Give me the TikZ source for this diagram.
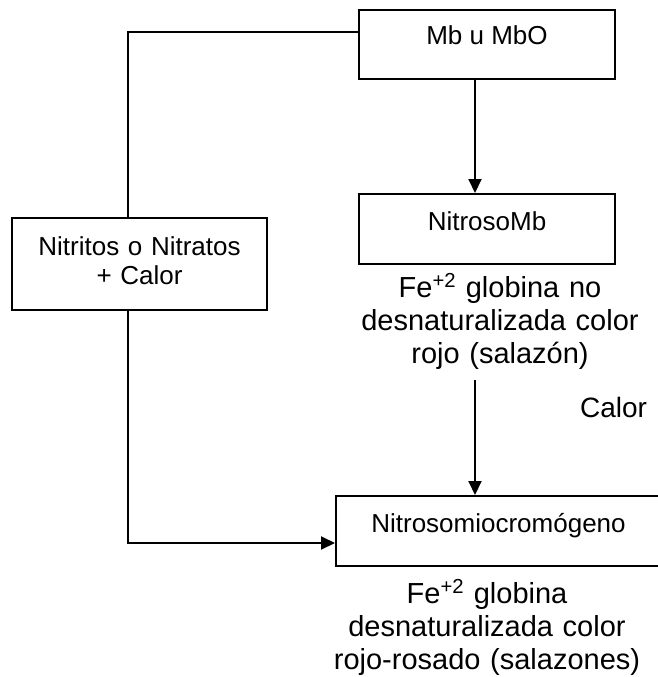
\documentclass[tikz,border=0pt]{standalone}
\usepackage{fontspec}
\setmainfont{Liberation Sans}
\usetikzlibrary{arrows.meta}
\begin{document}
\begin{tikzpicture}[x=1pt,y=-1pt,
  box/.style={draw, line width=2pt, inner sep=0pt, rectangle},
  boxtext/.style={inner sep=0pt, anchor=base, font=\fontsize{26}{29}\selectfont},
  note/.style={inner sep=0pt, anchor=base, text width=340pt, align=center,
               font=\fontsize{29}{33}\selectfont},
  link/.style={line width=2pt},
  arr/.style={line width=2pt, -{Triangle[length=14pt,width=13pt]}}]

% page area
\fill[white] (0,0) rectangle (657,677);
\useasboundingbox (0,0) rectangle (657,677);

% boxes
\node[box, minimum width=256pt, minimum height=69pt] (mb) at (487,44.5) {};
\node[box, minimum width=256pt, minimum height=70pt] (ns) at (487,229) {};
\node[box, minimum width=255pt, minimum height=92pt] (nit) at (139.5,264) {};
\node[box, minimum width=325pt, minimum height=70pt] (nm) at (498.5,531) {};

% box texts
\node[boxtext] (mbt) at (487,45) {Mb u MbO};
\node[boxtext] (nst) at (487,230) {NitrosoMb};
\node[boxtext, text width=250pt, align=center] (nitt) at (139.5,255) {Nitritos o Nitratos\\+ Calor};
\node[boxtext] (nmt) at (498.5,532) {Nitrosomiocromógeno};

% notes
\node[note] (n1) at (500,297) {Fe\textsuperscript{+2} globina no\\desnaturalizada color\\rojo (salazón)};
\node[note] (n2) at (487,603) {Fe\textsuperscript{+2} globina\\desnaturalizada color\\rojo-rosado (salazones)};
\node[inner sep=0pt, anchor=base, font=\fontsize{28}{32}\selectfont] (cal) at (613.5,417) {Calor};

% connectors
\coordinate (ax) at (475,0);
\coordinate (a2) at (475,380);
\coordinate (j1) at (128,32);
\coordinate (j2) at (128,543);

\draw[arr] (ax |- mb.south) -- (ax |- ns.north);
\draw[arr] (a2) -- (a2 |- nm.north);
\draw[link] (j1 -| mb.west) -- (j1) -- (nit.north -| j1);
\draw[arr] (nit.south -| j2) -- (j2) -- (j2 -| nm.west);
\end{tikzpicture}
\end{document}
